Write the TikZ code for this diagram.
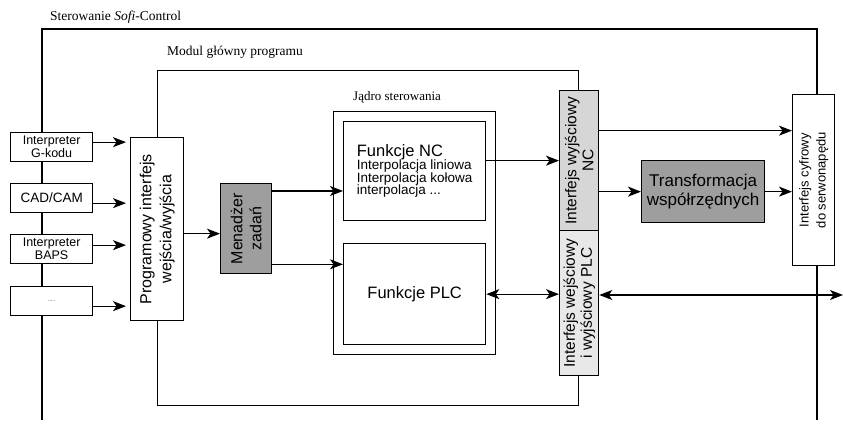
\documentclass[tikz,border=0pt]{standalone}
\usepackage{fontspec}
\setmainfont{Liberation Serif}
\setsansfont{Liberation Sans}
\usetikzlibrary{arrows.meta,calc}
\begin{document}
\begin{tikzpicture}[x=1pt,y=-1pt,
  frame/.style={draw, line width=1.2pt},
  box/.style={draw, line width=1.3pt, fill=white, inner sep=0pt, align=center, font=\sffamily, anchor=north west},
  darkbox/.style={box, fill=black!38},
  lightbox/.style={box, fill=black!16},
  paleboxx/.style={box, fill=black!9},
  arr/.style={line width=1.2pt, -{Stealth[length=13pt,width=10pt,inset=3.5pt]}},
  darr/.style={line width=1.2pt, {Stealth[length=13pt,width=10pt,inset=3.5pt]}-{Stealth[length=13pt,width=10pt,inset=3.5pt]}},
  ttl/.style={anchor=west, inner sep=0pt}
]
\useasboundingbox (0,0) rectangle (843,423);

% outer frame
\coordinate (o1) at (42,420);
\coordinate (o2) at (42,29);
\coordinate (o3) at (817,29);
\coordinate (o4) at (817,420);
\draw[frame] (o1) -- (o2) -- (o3) -- (o4);
\node[ttl, font=\rmfamily\fontsize{13.5}{15}\selectfont] (t1) at (50,17) {Sterowanie \textit{Sofi}-Control};

% module frame
\node[frame, anchor=north west, minimum width=421pt, minimum height=335pt, inner sep=0pt] (modul) at (157,70) {};
\node[ttl, font=\rmfamily\fontsize{13.5}{15}\selectfont] (t2) at (167,52) {Modul główny programu};

% core frame
\node[frame, anchor=north west, minimum width=162pt, minimum height=243pt, inner sep=0pt] (jadro) at (333,111) {};
\node[ttl, font=\rmfamily\fontsize{13}{15}\selectfont] (t3) at (353,97) {Jądro sterowania};

% input boxes
\node[box, minimum width=82pt, minimum height=29pt, font=\sffamily\fontsize{12.5}{13}\selectfont] (g) at (10,132) {Interpreter\\G-kodu};
\node[box, minimum width=82pt, minimum height=29pt, font=\sffamily\fontsize{13.5}{14}\selectfont] (cad) at (10,183) {CAD/CAM};
\node[box, minimum width=82pt, minimum height=29pt, font=\sffamily\fontsize{12.5}{13}\selectfont] (baps) at (10,234) {Interpreter\\BAPS};
\node[box, minimum width=82pt, minimum height=29pt, font=\sffamily\fontsize{5}{6}\selectfont] (dots) at (10,286) {.....};

% API box
\node[box, minimum width=53pt, minimum height=183pt] (prog) at (130,137) {};
\node[rotate=90, align=center, inner sep=0pt, font=\sffamily\fontsize{16}{20}\selectfont] (progtxt) at (prog.center) {Programowy interfejs\\wejścia/wyjścia};

% task manager
\node[darkbox, minimum width=51pt, minimum height=90pt] (men) at (220,183) {};
\node[rotate=90, align=center, inner sep=0pt, font=\sffamily\fontsize{16}{19}\selectfont] (mentxt) at (men.center) {Menadżer\\zadań};

% NC and PLC functions
\node[box, minimum width=142pt, minimum height=99pt, align=left] (nc) at (343,121)
  {{\fontsize{16.5}{18}\selectfont Funkcje NC}\\[-1pt]
   {\fontsize{13.5}{14}\selectfont Interpolacja liniowa}\\[-1pt]
   {\fontsize{13.5}{14}\selectfont Interpolacja kołowa}\\[-1pt]
   {\fontsize{13.5}{14}\selectfont interpolacja ...}};
\node[box, minimum width=142pt, minimum height=101pt, font=\sffamily\fontsize{16.5}{18}\selectfont] (plc) at (343,243) {Funkcje PLC};

% interfaces
\node[lightbox, minimum width=39pt, minimum height=140pt] (ncout) at (559,90) {};
\node[rotate=90, align=center, inner sep=0pt, font=\sffamily\fontsize{15.5}{17}\selectfont] (ncouttxt) at (ncout.center) {Interfejs wyjściowy\\NC};
\node[paleboxx, minimum width=39pt, minimum height=145pt] (plcio) at (559,230) {};
\node[rotate=90, align=center, inner sep=0pt, font=\sffamily\fontsize{15.5}{17}\selectfont] (plciotxt) at (plcio.center) {Interfejs wejściowy\\i wyjściowy PLC};

% transformation
\node[darkbox, minimum width=123pt, minimum height=62pt, font=\sffamily\fontsize{17}{18.5}\selectfont] (trans) at (641,160) {Transformacja\\współrzędnych};

% servo interface
\node[box, minimum width=42pt, minimum height=171pt] (servo) at (792,94) {};
\node[rotate=90, align=center, inner sep=0pt, font=\sffamily\fontsize{13}{17}\selectfont] (servotxt) at (servo.center) {Interfejs cyfrowy\\do serwonapędu};

% connectors
\draw[arr, shorten >=4pt] ([yshift=5pt]g.east) -- ([yshift=5pt]g.east -| prog.west);
\draw[arr, shorten >=4pt] ([yshift=-5pt]cad.east) -- ([yshift=-5pt]cad.east -| prog.west);
\draw[arr, shorten >=4pt] ([yshift=4pt]baps.east) -- ([yshift=4pt]baps.east -| prog.west);
\draw[arr, shorten >=4pt] ([yshift=-5pt]dots.east) -- ([yshift=-5pt]dots.east -| prog.west);
\draw[arr] ([yshift=-5pt]prog.east |- men.west) -- ([yshift=-5pt]men.west);
\draw[arr] ([yshift=-8pt]men.north east) -- ([yshift=-8pt]men.north east -| nc.west);
\draw[arr] ([yshift=10pt]men.south east) -- ([yshift=10pt]men.south east -| plc.west);
\draw[arr] ([yshift=10.5pt]nc.east) -- ([yshift=10.5pt]nc.east -| ncout.west);
\draw[darr] (plc.east) -- (plc.east -| plcio.west);
\draw[arr] ([yshift=30pt]ncout.east) -- ([yshift=30pt]ncout.east -| servo.west);
\draw[arr] (ncout.east |- trans.west) -- (trans.west);
\draw[arr] (trans.east) -- (trans.east -| servo.west);
\coordinate (rt) at (843,295);
\draw[darr] (plcio.east |- rt) -- (rt);
\end{tikzpicture}
\end{document}
